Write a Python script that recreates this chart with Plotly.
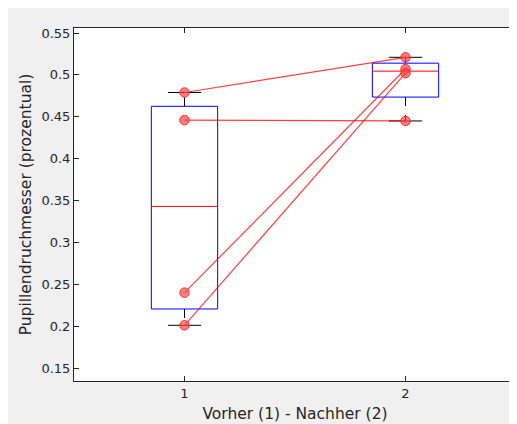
import numpy as np
import plotly.graph_objects as go

groups = [1, 2]
vorher = [0.479, 0.446, 0.240, 0.201]
nachher = [0.521, 0.445, 0.507, 0.502]
y_tick_vals = [0.15, 0.2, 0.25, 0.3, 0.35, 0.4, 0.45, 0.5, 0.55]
y_tick_text = ["0.15", "0.2", "0.25", "0.3", "0.35", "0.4", "0.45", "0.5", "0.55"]
x_tick_text = ["1", "2"]


def matlab_prctile(vals, p):
    s = np.sort(np.asarray(vals, dtype=float))
    n = len(s)
    pos = (np.arange(1, n + 1) - 0.5) / n * 100
    return float(np.interp(p, pos, s))


fig = go.Figure()
BOXW = 0.15
CAPW = 0.075
INK = "#262626"

for g, vals in zip(groups, [vorher, nachher]):
    q1 = matlab_prctile(vals, 25)
    med = matlab_prctile(vals, 50)
    q3 = matlab_prctile(vals, 75)
    iqr = q3 - q1
    lo = min(v for v in vals if v >= q1 - 1.5 * iqr)
    hi = max(v for v in vals if v <= q3 + 1.5 * iqr)
    # whiskers (dashed black)
    fig.add_trace(go.Scatter(x=[g, g, None, g, g], y=[q3, hi, None, q1, lo], mode="lines",
                             line=dict(color="black", width=1, dash="dash"), hoverinfo="skip"))
    # caps
    fig.add_trace(go.Scatter(x=[g - CAPW, g + CAPW, None, g - CAPW, g + CAPW], y=[hi, hi, None, lo, lo],
                             mode="lines", line=dict(color="black", width=1), hoverinfo="skip"))
    # box
    fig.add_trace(go.Scatter(x=[g - BOXW, g + BOXW, g + BOXW, g - BOXW, g - BOXW],
                             y=[q1, q1, q3, q3, q1], mode="lines",
                             line=dict(color="#0000ff", width=1), hoverinfo="skip"))
    # median
    fig.add_trace(go.Scatter(x=[g - BOXW, g + BOXW], y=[med, med], mode="lines",
                             line=dict(color="#ff0000", width=1), hoverinfo="skip"))

# paired lines and points
for a, b in zip(vorher, nachher):
    fig.add_trace(go.Scatter(x=groups, y=[a, b], mode="lines+markers",
                             line=dict(color="rgba(255,0,0,0.75)", width=1.2),
                             marker=dict(size=9.5, color="rgba(255,70,70,0.7)",
                                         line=dict(color="rgba(235,40,40,0.9)", width=1)),
                             hoverinfo="skip"))

axis_common = dict(showline=True, linecolor=INK, linewidth=1, mirror="ticks", ticks="inside",
                   ticklen=5, tickcolor=INK, showgrid=False, zeroline=False, automargin=False,
                   tickfont=dict(family="DejaVu Sans", size=13, color=INK))

# page body has an 8 px margin; figure fills the rest of the 517x424 window
fig.update_layout(
    width=509, height=416,
    margin=dict(l=66, r=1, t=20, b=43),
    paper_bgcolor="#f0f0f0", plot_bgcolor="white",
    showlegend=False,
    font=dict(family="DejaVu Sans", color=INK),
    xaxis=dict(range=[0.5, 2.5], tickvals=groups, ticktext=x_tick_text,
               title=dict(text="Vorher (1) - Nachher (2)", font=dict(size=15.5, color=INK), standoff=8),
               **axis_common),
    yaxis=dict(range=[0.1345, 0.556], tickvals=y_tick_vals, ticktext=y_tick_text,
               title=dict(text="Pupillendruchmesser (prozentual)", font=dict(size=15.5, color=INK), standoff=6),
               **axis_common),
)

fig.write_html("out.html")
